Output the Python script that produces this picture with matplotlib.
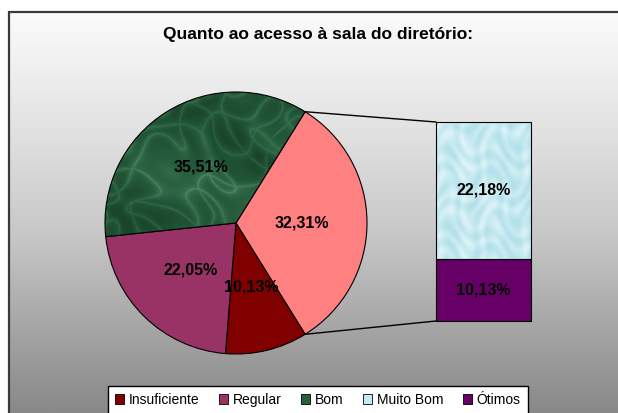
import numpy as np
import matplotlib.pyplot as plt
from matplotlib.colors import LinearSegmentedColormap
from matplotlib.patches import Patch, Rectangle

plt.rcParams['font.family'] = ['Liberation Sans', 'DejaVu Sans']

# Survey answers
categories = ['Insuficiente', 'Regular', 'Bom', 'Muito Bom', 'Ótimos']
values = [10.13, 22.05, 35.51, 22.18, 10.13]
colors = ['#800000', '#993366', '#2B5E3C', '#C4EAF2', '#660066']

# the last two answers are grouped in the pie and broken out in the bar
pie_vals = [values[3] + values[4], values[0], values[1], values[2]]
pie_cols = ['#FF8080', colors[0], colors[1], colors[2]]
bar_vals = [values[4], values[3]]
bar_cols = [colors[4], colors[3]]

W, H = 618, 413
fig = plt.figure(figsize=(W / 100, H / 100), dpi=100)
ax = fig.add_axes([0, 0, 1, 1])
ax.axis('off')

# chart area: vertical white-to-grey gradient with a dark frame
frame_x, frame_top = 8.5, H - 12
ys = np.linspace(0, 1, 256)[:, None]
grad = LinearSegmentedColormap.from_list(
    'bg', [(0, '#FBFBFB'), (0.25, '#E6E6E6'), (0.55, '#C8C8C8'),
           (0.8, '#A4A4A4'), (1, '#888888')])
ax.imshow(ys, cmap=grad, aspect='auto', origin='upper',
          extent=(frame_x, W + 5, 0, frame_top), zorder=0)
ax.add_patch(Rectangle((frame_x, -5), W, frame_top + 5, fill=False,
                       edgecolor='#3A3A3A', linewidth=1.6, zorder=1))

ax.text(318, H - 35, 'Quanto ao acesso à sala do diretório:', ha='center',
        va='center', fontsize=12.5, fontweight='bold', zorder=5)

# pie with the grouped slice centred on the right side
cx, cy, r = 236, 190, 131
start = pie_vals[0] * 360 / 200
wedges, _, autotexts = ax.pie(
    pie_vals, colors=pie_cols, center=(cx, cy), radius=r, startangle=start,
    counterclock=False, frame=True, pctdistance=0.5,
    autopct=lambda p: f'{p:.2f}%'.replace('.', ','),
    wedgeprops=dict(edgecolor='black', linewidth=0.8),
    textprops=dict(fontsize=11.5, fontweight='bold'))
for t in autotexts:
    t.set_zorder(6)


def veins(x, y, fx, fy, warp):
    # thin bright lines along a warped sine field
    t = (np.sin(13 * x + 5 * np.sin(7 * y)) + np.sin(11 * y + 4 * np.sin(9 * x))
         + 0.4 * np.sin(29 * x - 23 * y))
    return np.abs(np.sin(fx * x + fy * y + warp * t))


# marbled texture on the "Bom" wedge
gx, gy = np.meshgrid(np.linspace(0, 1, 400), np.linspace(0, 1, 400))
v = np.minimum(veins(gx, gy, 6, 9, 1.2), veins(gy, gx, 10, -5, 1.0))
shade = 0.5 + 0.5 * np.sin(6 * gx + 3 * np.cos(5 * gy)) * np.cos(5 * gy + 2 * np.sin(4 * gx))
marble = np.clip(0.6 * v ** 0.3 + 0.4 * shade, 0, 1)
green = LinearSegmentedColormap.from_list('g', ['#6FAA85', '#3A7550', '#24583A', '#184329'])
img = ax.imshow(marble, cmap=green, extent=(cx - r, cx + r, cy - r, cy + r),
                zorder=1.5, interpolation='bilinear')
img.set_clip_path(wedges[3])
wedges[3].set_facecolor('none')
wedges[3].set_zorder(1.6)

# bar of the grouped slice
bar_x, bar_w, bar_bottom, bar_h = 483.5, 95, H - 321, 199
scale = bar_h / sum(bar_vals)
bottom = bar_bottom
bars = []
for v_, c in zip(bar_vals, bar_cols):
    bars.append(ax.bar(bar_x, v_ * scale, width=bar_w, bottom=bottom, color=c,
                       edgecolor='black', linewidth=0.8, zorder=3)[0])
    ax.text(bar_x, bottom + v_ * scale / 2, f'{v_:.2f}%'.replace('.', ','),
            ha='center', va='center', fontsize=11.5, fontweight='bold', zorder=6)
    bottom += v_ * scale

# soft droplet shading on the "Muito Bom" segment
drops = 0.5 + 0.5 * np.sin(17 * gx + 3 * np.sin(11 * gy)) * np.sin(23 * gy + 3 * np.sin(13 * gx))
water = LinearSegmentedColormap.from_list('w', ['#B3E0E9', '#C6EAF1', '#DDF3F7'])
top = bars[1]
wimg = ax.imshow(drops, cmap=water, zorder=3.1, interpolation='bilinear',
                 extent=(top.get_x(), top.get_x() + top.get_width(),
                         top.get_y(), top.get_y() + top.get_height()))
wimg.set_clip_path(top)
top.set_facecolor('none')
top.set_zorder(3.2)

# connector lines from the grouped slice to the bar
a = np.radians(start)
px, py = cx + r * np.cos(a), cy + r * np.sin(a)
ax.plot([px, bar_x - bar_w / 2], [py, bar_bottom + bar_h], color='black',
        linewidth=1, zorder=4)
ax.plot([px, bar_x - bar_w / 2], [2 * cy - py, bar_bottom], color='black',
        linewidth=1, zorder=4)

handles = [Patch(facecolor=c, edgecolor='black', linewidth=0.6) for c in colors]
leg = ax.legend(handles, categories, ncol=5, loc='upper left',
                bbox_to_anchor=(108 / W, 1 - 386 / H), borderaxespad=0,
                fontsize=10, handlelength=0.65, handleheight=0.65,
                handletextpad=0.35, columnspacing=1.4, borderpad=0.5,
                frameon=True, fancybox=False, framealpha=1)
leg.get_frame().set_edgecolor('black')
leg.get_frame().set_linewidth(1)
leg.set_zorder(7)

ax.set_xlim(0, W)
ax.set_ylim(0, H)
ax.set_aspect('auto')

fig.savefig('out.png', dpi=100)
